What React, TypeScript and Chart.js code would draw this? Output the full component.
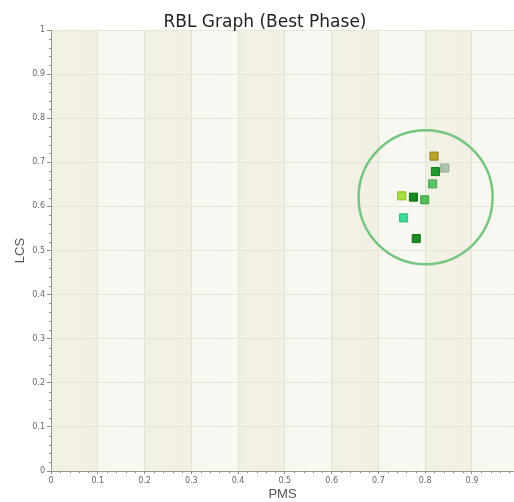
import React, { useEffect, useRef } from "react";
import { Chart, registerables } from "chart.js";

Chart.register(...registerables);

const chartTitle = "RBL Graph (Best Phase)";
const xAxisTitle = "PMS";
const yAxisTitle = "LCS";

const pmsValues = [0.819, 0.842, 0.822, 0.816, 0.75, 0.775, 0.799, 0.754, 0.781];
const lcsValues = [0.714, 0.687, 0.679, 0.651, 0.624, 0.621, 0.615, 0.574, 0.527];
const pointFill = ["#b9a82c", "#a9c6aa", "#1f9b2b", "#5dc166", "#a9e142", "#168b1d", "#4fbd56", "#3edc96", "#1e8d26"];
const pointEdge = ["#8c7c12", "#8aa98b", "#137a1c", "#45a64e", "#86bd2a", "#0f6e14", "#3aa241", "#2ab97a", "#137019"];

const highlightCenter = { x: 0.801, y: 0.621 };

const xMin = 0;
const xMax = 0.99;
const yMin = 0;
const yMax = 1;

const bandPlugin = {
  id: "bands",
  beforeDraw(chart: any) {
    const { ctx, chartArea, scales } = chart;
    const xs = scales.x;
    ctx.save();
    ctx.fillStyle = "#ffffff";
    ctx.fillRect(0, 0, chart.width, chart.height);
    for (let i = 0; i < 10; i++) {
      const a = xs.getPixelForValue(i / 10);
      const b = Math.min(xs.getPixelForValue((i + 1) / 10), chartArea.right);
      if (a >= chartArea.right) break;
      const g = ctx.createLinearGradient(a, 0, b, 0);
      if (i % 2 === 0) {
        g.addColorStop(0, "#eff0e2");
        g.addColorStop(0.3, "#f3f1e6");
        g.addColorStop(1, "#f2f0e5");
      } else {
        g.addColorStop(0, "#f6f7ef");
        g.addColorStop(1, "#f9f9f4");
      }
      ctx.fillStyle = g;
      ctx.fillRect(a, chartArea.top, b - a, chartArea.bottom - chartArea.top);
    }
    ctx.restore();
  },
  afterDraw(chart: any) {
    const { ctx, chartArea, scales } = chart;
    ctx.save();
    ctx.strokeStyle = "#8e8e78";
    ctx.lineWidth = 1;
    ctx.beginPath();
    for (let k = 1; k < 50; k++) {
      if (k % 5 === 0) continue;
      const v = k * 0.02;
      if (v <= xMax) {
        const px = Math.round(scales.x.getPixelForValue(v)) + 0.5;
        ctx.moveTo(px, chartArea.bottom);
        ctx.lineTo(px, chartArea.bottom + 2);
      }
      const py = Math.round(scales.y.getPixelForValue(v)) + 0.5;
      ctx.moveTo(chartArea.left - 2, py);
      ctx.lineTo(chartArea.left, py);
    }
    ctx.stroke();
    ctx.fillStyle = "#222222";
    ctx.font = "17px 'DejaVu Sans'";
    ctx.textAlign = "center";
    ctx.textBaseline = "alphabetic";
    ctx.fillText(chartTitle, 265, 27);
    ctx.restore();
  },
};

const keepTenths = (scale: any) => {
  scale.ticks = scale.ticks.filter((t: any) => Math.abs(t.value * 10 - Math.round(t.value * 10)) < 1e-6);
};
const fmt = (v: any) => String(Number(Number(v).toFixed(2)));

export default function App() {
  const ref = useRef<HTMLCanvasElement | null>(null);
  useEffect(() => {
    document.body.style.margin = "0";
    const canvas = ref.current;
    if (!canvas) return;
    const points = pmsValues.map((x, i) => ({ x, y: lcsValues[i] }));
    const chart = new Chart(canvas, {
      type: "scatter",
      data: {
        datasets: [
          {
            data: points,
            pointStyle: "rect",
            pointRadius: 5.7,
            pointBackgroundColor: pointFill,
            pointBorderColor: pointEdge,
            pointBorderWidth: 1,
          },
          {
            data: [highlightCenter],
            pointStyle: "circle",
            pointRadius: 67,
            pointBackgroundColor: "rgba(0,0,0,0)",
            pointBorderColor: "#76c581",
            pointBorderWidth: 2.5,
          },
        ],
      },
      options: {
        animation: false,
        responsive: false,
        events: [],
        layout: { padding: { top: 30, left: 0, right: 0, bottom: 0 }, autoPadding: false },
        plugins: {
          legend: { display: false },
          tooltip: { enabled: false },
          title: { display: false },
        },
        scales: {
          x: {
            type: "linear",
            min: xMin,
            max: xMax,
            afterBuildTicks: keepTenths,
            afterFit: (s: any) => {
              s.height = 31;
            },
            ticks: {
              stepSize: 0.1,
              callback: fmt,
              color: "#666666",
              font: { family: "DejaVu Sans", size: 8 },
              padding: 2,
              maxRotation: 0,
              autoSkip: false,
            },
            grid: { color: "#e3e3d3", tickColor: "#8e8e78", tickLength: 3 },
            border: { color: "#9a9a82", width: 1 },
            title: {
              display: true,
              text: xAxisTitle,
              color: "#555555",
              font: { family: "Liberation Sans", size: 13 },
              padding: { top: 0, bottom: 0 },
            },
          },
          y: {
            type: "linear",
            min: yMin,
            max: yMax,
            afterBuildTicks: keepTenths,
            afterFit: (s: any) => {
              s.width = 51;
            },
            ticks: {
              stepSize: 0.1,
              callback: fmt,
              color: "#666666",
              font: { family: "DejaVu Sans", size: 8 },
              padding: 2,
              autoSkip: false,
            },
            grid: { color: "#e6e6d8", tickColor: "#8e8e78", tickLength: 4 },
            border: { color: "#9a9a82", width: 1 },
            title: {
              display: true,
              text: yAxisTitle,
              color: "#555555",
              font: { family: "Liberation Sans", size: 13 },
              padding: { top: 13, bottom: 0 },
            },
          },
        },
      },
      plugins: [bandPlugin],
    });
    return () => chart.destroy();
  }, []);
  return (
    <div style={{ width: 514, height: 502 }}>
      <canvas ref={ref} width={514} height={502} style={{ display: "block" }} />
    </div>
  );
}
